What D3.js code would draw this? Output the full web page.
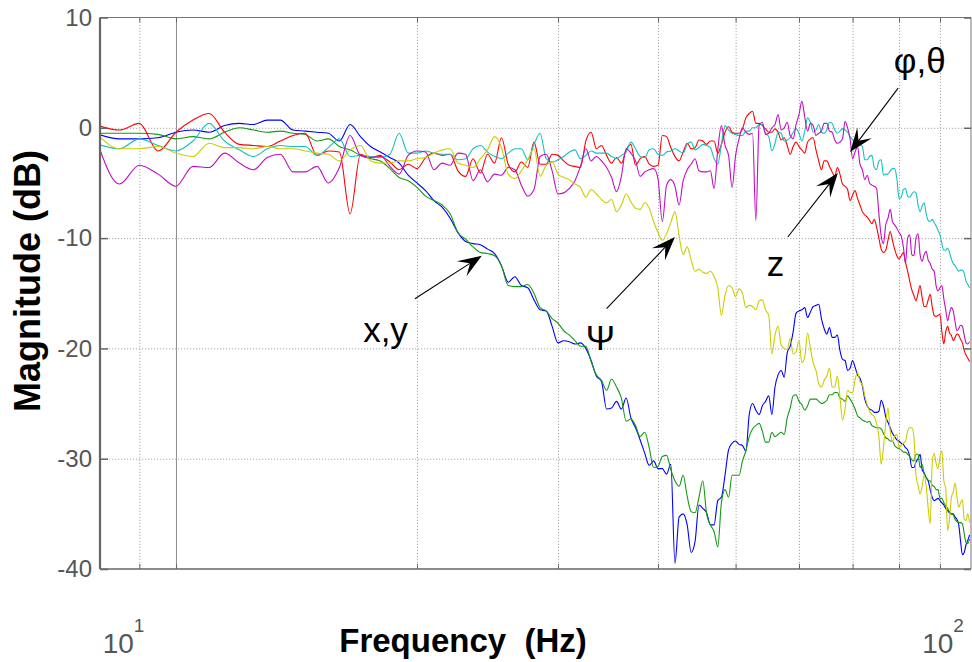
<!DOCTYPE html>
<html><head><meta charset="utf-8">
<script src="https://cdn.jsdelivr.net/npm/d3@7"></script>
<style>body{margin:0;background:#fff}svg{display:block}</style>
</head><body>
<svg id="chart" width="972" height="662"></svg>
<script>
// ---------------- data ----------------
const freqs = [8,8.5,9,9.5,10,10.5,11,11.5,12,12.5,13,13.5,14,14.5,15,15.5,16,16.5,17,17.5,
  18,18.5,19,19.5,20,20.5,21,21.5,22,22.5,23,23.5,24,24.5,25,25.5,26,26.5,27,27.5,
  28,28.5,29,29.5,30,30.5,31,31.5,32,32.5,33,33.5,34,34.5,35,35.5,36,36.5,37,37.5,
  38,38.5,39,39.5,40,40.5,41,41.5,42,42.5,43,43.5,44,44.5,45,45.5,46,46.5,47,47.5,
  48,48.5,49,49.5,50,50.5,51,51.5,52,52.5,53,53.5,54,54.5,55,55.5,56,56.5,57,57.5,
  58,58.5,59,59.5,60,60.5,61,61.5,62,62.5,63,63.5,64,64.5,65,65.5,66,66.5,67,67.5,
  68,68.5,69,69.5,70,70.5,71,71.5,72,72.5,73,73.5,74,74.5,75,75.5,76,76.5,77,77.5,
  78,78.5,79,79.5,80,80.5,81,81.5,82,82.5,83,83.5,84,84.5,85,85.5,86,86.5,87,87.5,
  88,88.5,89,89.5,90,90.5,91,91.5,92,92.5,93,93.5,94,94.5,95,95.5,96,96.5,97,97.5,
  98];

const magX = [-0.6,-1.0,-1.0,-0.9,-0.4,-0.2,-0.4,0.2,0.4,0.3,0.7,0.7,-0.2,-0.3,-0.4,-0.5,-1.2,0.3,-0.8,-1.7,
  -2.2,-2.7,-3.2,-4.3,-5.0,-5.7,-6.6,-7.2,-8.2,-9.5,-10.3,-10.5,-10.6,-11.0,-11.4,-12.5,-14.0,-13.5,-14.3,-14.5,
  -15.6,-16.5,-16.6,-18.0,-19.5,-19.3,-19.4,-19.6,-19.5,-20.0,-21.1,-22.5,-23.0,-25.5,-25.4,-24.8,-25.5,-24.5,-26.3,-27.2,
  -28.3,-29.5,-30.6,-30.2,-30.9,-30.9,-31.4,-30.5,-39.5,-35.3,-35.0,-36.0,-38.5,-37.5,-34.2,-34.5,-34.9,-36.0,-36.0,-33.8,
  -33.5,-31.5,-29.2,-28.6,-28.4,-28.7,-28.8,-29.3,-26.0,-25.0,-25.6,-26.0,-25.2,-24.8,-24.3,-26.0,-23.5,-22.4,-22.0,-22.6,
  -20.4,-19.8,-18.5,-16.8,-16.6,-16.5,-16.3,-17.2,-16.7,-16.2,-16.1,-16.0,-17.3,-18.2,-18.7,-18.1,-19.0,-19.0,-18.8,-20.2,
  -21.0,-21.1,-22.0,-21.8,-21.1,-21.7,-22.4,-22.7,-23.4,-24.6,-25.2,-25.5,-25.6,-25.8,-25.8,-25.7,-24.7,-25.2,-26.2,-26.7,
  -27.2,-27.7,-28.0,-28.3,-28.4,-28.6,-28.7,-29.0,-29.2,-29.8,-30.8,-30.8,-30.3,-30.0,-29.6,-31.0,-31.3,-31.7,-32.0,-32.8,
  -33.5,-33.8,-33.7,-33.6,-33.8,-34.0,-34.2,-34.5,-34.7,-34.9,-35.0,-35.0,-35.3,-35.5,-36.0,-37.5,-38.7,-38.5,-37.8,-37.4,
  -36.9];

const magY = [-0.5,-0.5,-0.5,-0.6,-1.0,-0.8,-1.0,-0.4,0.0,-0.2,-0.4,-0.3,-0.5,-0.6,-1.2,-1.0,-1.7,-2.0,-2.5,-2.8,
  -3.0,-3.7,-4.5,-4.8,-5.4,-6.2,-6.6,-7.0,-7.8,-9.5,-10.1,-10.8,-11.3,-11.4,-11.6,-12.5,-14.3,-14.4,-14.4,-14.2,
  -15.0,-16.3,-16.6,-17.3,-17.7,-18.4,-18.8,-19.3,-19.8,-19.8,-21.2,-22.4,-22.9,-23.8,-22.8,-23.5,-24.5,-26.6,-26.4,-27.0,
  -28.0,-27.6,-29.0,-30.8,-30.7,-29.8,-29.7,-31.0,-32.0,-32.5,-31.5,-33.4,-34.8,-34.9,-33.5,-32.0,-35.0,-36.0,-36.6,-38.0,
  -34.0,-32.8,-33.5,-31.5,-31.5,-31.5,-30.2,-29.3,-28.0,-27.3,-27.0,-26.8,-27.5,-28.5,-28.5,-27.6,-28.0,-27.8,-27.6,-27.8,
  -26.3,-25.4,-24.3,-24.2,-24.8,-25.1,-25.6,-25.2,-24.6,-24.6,-24.6,-24.8,-25.0,-24.9,-24.7,-24.2,-24.2,-24.0,-24.0,-24.5,
  -24.6,-24.8,-24.3,-24.6,-25.0,-25.5,-26.1,-26.3,-26.5,-26.6,-26.7,-26.6,-27.0,-27.1,-27.2,-27.2,-27.3,-27.7,-28.1,-28.2,
  -28.4,-28.4,-28.8,-29.0,-29.1,-29.2,-29.4,-29.4,-29.6,-29.8,-30.1,-30.2,-29.6,-29.6,-30.8,-30.5,-31.4,-31.7,-32.0,-32.0,
  -32.4,-32.5,-32.8,-32.8,-33.6,-33.6,-34.0,-34.3,-34.5,-34.8,-35.0,-35.1,-35.5,-35.7,-35.8,-35.8,-35.9,-36.8,-37.6,-37.7,
  -37.3];

const magZ = [0.2,-0.2,0.4,-2.1,-0.4,0.7,1.3,-0.4,-1.5,-1.6,-1.7,-1.2,-0.7,-0.5,-2.5,-2.1,-2.2,-7.8,-2.4,-2.7,
  -2.6,-3.1,-3.8,-3.3,-3.7,-2.7,-2.3,-2.5,-2.4,-3.9,-4.4,-2.8,-4.1,-2.4,-3.2,-0.9,-3.3,-4.0,-3.1,-3.6,
  -1.3,-3.3,-3.3,-2.4,-2.5,-3.0,-3.4,-3.5,-3.6,-1.2,-0.4,-1.9,-1.6,-2.5,-3.2,-2.7,-3.2,-2.0,-1.5,-3.4,
  -2.8,-2.6,-3.3,-3.5,-3.4,-0.7,-0.8,-1.8,-2.6,-3.0,-2.2,-1.4,-1.9,-1.8,-1.1,-1.2,-1.5,-1.2,-1.2,-2.3,
  -1.5,-0.4,0.1,-0.4,-0.5,-0.5,-0.1,0.9,1.3,1.5,0.4,0.4,0.2,-0.1,-0.4,-0.4,-0.1,-0.4,-1.1,-0.9,
  -1.6,-2.4,-1.7,-1.3,-1.7,-2.0,-2.3,-1.3,-1.0,-0.9,-2.0,-3.0,-3.8,-3.0,-3.0,-3.5,-4.0,-4.4,-3.6,-4.2,
  -5.1,-5.3,-5.6,-6.6,-6.1,-5.7,-6.4,-7.0,-7.6,-7.9,-8.1,-8.4,-8.7,-8.3,-9.0,-10.0,-11.0,-11.3,-11.1,-10.2,
  -9.4,-10.2,-11.0,-11.6,-11.9,-11.6,-11.3,-12.2,-13.0,-13.9,-14.7,-15.2,-15.7,-15.0,-14.3,-15.4,-16.2,-16.2,-15.6,-15.1,
  -16.2,-17.0,-17.1,-17.0,-16.9,-18.5,-19.6,-18.5,-18.0,-18.6,-18.8,-19.3,-19.0,-18.7,-18.8,-19.2,-19.5,-20.2,-20.6,-20.9,
  -21.2];

const magPhi = [-1.5,-1.9,-1.0,-1.6,-2.1,-1.2,0.4,-1.2,-2.0,-2.6,-1.9,-1.6,-1.7,-1.7,-2.5,-1.8,-1.0,-2.6,-2.5,-2.6,
  -2.7,-2.4,-0.5,-2.3,-2.3,-2.1,-2.3,-2.4,-2.4,-2.9,-2.8,-1.9,-1.6,-2.2,-2.6,-2.8,-2.3,-1.9,-1.9,-2.9,
  -1.5,-0.5,-2.8,-3.1,-2.9,-2.6,-2.2,-2.0,-2.8,-2.5,-2.1,-2.3,-2.3,-2.3,-2.6,-2.8,-2.5,-2.2,-1.3,-1.9,
  -2.6,-2.7,-2.0,-1.9,-2.4,-2.5,-2.2,-2.1,-1.9,-2.1,-2.3,-1.5,-1.3,-2.0,-1.8,-1.5,-1.6,-1.8,-2.8,-3.3,
  -1.5,0.2,-0.2,-0.5,-0.6,-0.7,-0.7,-0.3,-0.3,0.0,0.0,0.3,0.3,-0.5,-0.8,-2.1,-1.4,-0.4,-0.5,-1.2,
  -1.1,-0.9,-0.4,-0.1,-0.5,-1.2,-0.3,0.9,0.5,-0.4,-0.2,0.3,-0.4,-0.5,-0.2,0.5,0.4,-0.2,-0.5,-0.3,
  -0.1,-0.2,-0.4,-0.8,-1.1,-1.3,-1.4,-1.5,-1.7,-2.9,-2.9,-2.6,-2.5,-3.6,-3.8,-3.0,-2.9,-4.3,-4.2,-4.2,
  -3.9,-3.7,-3.7,-4.6,-6.4,-6.3,-5.6,-5.5,-6.2,-6.3,-6.0,-5.8,-5.9,-7.0,-7.6,-7.1,-6.8,-7.8,-8.4,-8.5,
  -8.3,-8.6,-8.9,-9.3,-9.7,-10.5,-11.1,-11.1,-10.9,-11.3,-11.9,-12.3,-12.5,-12.8,-13.0,-12.9,-12.9,-13.2,-13.9,-14.2,
  -14.5];

const magTheta = [-1.6,-5.1,-3.4,-4.2,-5.3,-3.5,-3.6,-2.3,-3.2,-3.8,-2.7,-2.4,-4.0,-4.0,-3.5,-5.0,-3.6,-0.7,-2.5,-2.7,
  -2.5,-3.5,-4.2,-2.5,-2.1,-2.2,-3.8,-3.2,-3.4,-2.3,-2.4,-4.8,-3.8,-4.9,-4.2,-4.3,-3.6,-3.8,-5.2,-6.2,
  -5.6,-2.6,-2.4,-3.9,-6.0,-5.9,-5.5,-4.8,-3.5,-1.9,-3.0,-2.6,-3.0,-3.6,-4.5,-5.8,-4.4,-1.9,-2.3,-3.0,
  -4.4,-4.0,-3.8,-3.7,-4.6,-8.5,-5.2,-4.7,-5.3,-7.0,-4.8,-3.8,-3.3,-2.8,-3.9,-4.0,-4.0,-3.9,-5.5,-2.0,
  0.2,-1.6,-2.5,-5.4,-2.5,-1.0,0.0,-0.4,-0.6,-0.5,-8.4,0.2,0.5,-0.6,-0.5,0.0,0.3,1.2,-0.2,0.0,
  0.5,-0.7,-1.0,0.3,1.2,2.4,1.0,-0.3,0.4,0.2,-0.7,-0.5,-0.3,0.4,0.4,-0.3,-0.4,-1.1,-1.4,-1.3,
  -1.0,0.6,0.0,-1.0,-2.8,-2.2,-1.7,-3.3,-3.8,-4.7,-4.3,-5.0,-5.2,-5.3,-5.5,-7.8,-9.8,-10.5,-8.8,-8.2,
  -7.4,-8.5,-8.8,-9.1,-9.5,-9.8,-10.8,-12.3,-10.0,-9.7,-11.5,-11.6,-10.0,-9.6,-11.5,-12.1,-11.5,-11.2,-12.0,-12.3,
  -12.8,-13.0,-14.3,-14.8,-14.5,-14.3,-15.5,-16.5,-17.5,-16.8,-16.3,-16.6,-17.6,-18.4,-18.2,-17.9,-18.0,-18.8,-19.5,-19.6,
  -19.4];

const magPsi = [-0.7,-1.9,-1.9,-1.7,-2.3,-2.6,-1.4,-1.8,-1.8,-1.9,-1.7,-1.9,-1.9,-2.1,-2.3,-2.4,-3.0,-2.0,-1.6,-3.0,
  -3.2,-3.2,-3.0,-3.0,-2.8,-2.7,-2.3,-2.0,-1.9,-3.2,-3.4,-3.6,-2.8,-2.0,-0.8,-1.8,-4.2,-4.6,-3.9,-2.9,
  -1.9,-4.4,-3.4,-3.1,-4.2,-4.5,-4.7,-5.1,-5.4,-6.3,-5.6,-6.0,-6.5,-6.8,-6.5,-7.6,-7.0,-6.0,-6.7,-7.3,
  -7.4,-6.8,-7.3,-8.5,-9.5,-10.2,-9.6,-8.6,-7.6,-9.8,-11.5,-10.8,-12.0,-13.0,-12.8,-13.1,-13.2,-13.0,-13.5,-14.5,
  -17.0,-15.2,-14.3,-14.5,-15.3,-14.6,-15.0,-16.3,-16.1,-16.2,-16.5,-15.7,-15.6,-16.5,-17.0,-20.5,-18.8,-18.0,-19.7,-20.0,
  -20.1,-19.1,-20.5,-20.3,-19.3,-21.3,-20.8,-18.6,-20.0,-21.3,-22.0,-23.2,-23.5,-22.9,-22.5,-21.8,-23.5,-23.5,-22.5,-24.4,
  -26.5,-25.5,-23.8,-24.0,-24.0,-22.8,-22.2,-23.0,-23.3,-24.3,-25.1,-25.7,-26.0,-26.2,-26.8,-28.0,-30.5,-29.0,-26.8,-25.4,
  -27.5,-28.4,-28.0,-27.8,-29.0,-28.8,-28.6,-28.4,-27.5,-27.2,-27.2,-28.0,-31.5,-32.4,-33.2,-32.5,-31.5,-32.5,-34.5,-35.9,
  -30.5,-29.5,-30.4,-30.9,-29.8,-29.3,-32.0,-32.7,-36.5,-35.5,-33.5,-33.0,-32.2,-33.5,-34.4,-34.0,-33.7,-35.5,-35.6,-35.0,
  -35.8];

const seriesNames = ["x","y","z","phi","theta","psi"];
const seriesValues = [magX, magY, magZ, magPhi, magTheta, magPsi];
const seriesColors = ["#0000ff","#139a13","#ff0000","#14c0c0","#c010c0","#cccc00"];

const yTicks = [10, 0, -10, -20, -30, -40];
const xGridFreqs = [9, 10, 20, 30, 40, 50, 60, 70, 80, 90];
const xTickLabels = [{base:"10", exp:"1", at:8.1}, {base:"10", exp:"2", at:85.5}];

const annotations = [
  {text:"x,y", f:17.13, db:-19.4},
  {text:"\u03A8", f:32.5, db:-20.1},
  {text:"z", f:54.7, db:-13.4},
  {text:"\u03C6,\u03B8", f:78.8, db:5.0}
];
const arrows = [
  {from:[19.88,-15.5], to:[24.1,-11.6]},
  {from:[34.5,-16.4], to:[42.0,-9.9]},
  {from:[58.1,-9.9], to:[67.1,-4.1]},
  {from:[79.8,3.6], to:[69.5,-2.2]}
];

// ---------------- drawing ----------------
const svg = d3.select("#chart");
const P = {left:100, right:971, top:17.5, bottom:569};
const x = d3.scaleLog().domain([8.037, 98.4]).range([P.left, P.right]);
const y = d3.scaleLinear().domain([-40, 10]).range([P.bottom, P.top]);
const FONT = "'Liberation Sans', Arial, Helvetica, sans-serif";

svg.append("defs").append("clipPath").attr("id","clip")
  .append("rect").attr("x",P.left).attr("y",P.top).attr("width",P.right-P.left).attr("height",P.bottom-P.top);

// grid
const grid = svg.append("g");
grid.append("g").attr("transform",`translate(0,${P.bottom})`)
  .call(d3.axisBottom(x).tickValues(xGridFreqs).tickSize(-(P.bottom-P.top)).tickFormat(""))
  .call(g=>{g.select(".domain").remove();
    g.selectAll(".tick line").attr("stroke", d=> d===10 ? "#8c8c8c" : "#a8a8a8")
     .attr("stroke-dasharray", d=> d===10 ? null : "1.2,1.8").attr("stroke-width",1);});
grid.append("g").attr("transform",`translate(${P.left},0)`)
  .call(d3.axisLeft(y).tickValues(yTicks.filter(v=>v!==10 && v!==-40)).tickSize(-(P.right-P.left)).tickFormat(""))
  .call(g=>{g.select(".domain").remove();
    g.selectAll(".tick line").attr("stroke","#a8a8a8").attr("stroke-dasharray","1.2,1.8");});

// lines
const line = d3.line().curve(d3.curveMonotoneX).x(d=>x(d[0])).y(d=>y(d[1]));
const lines = svg.append("g").attr("clip-path","url(#clip)");
seriesValues.forEach((vals,i)=>{
  lines.append("path").datum(freqs.map((f,j)=>[f, vals[j]]))
    .attr("fill","none").attr("stroke",seriesColors[i]).attr("stroke-width",1.1)
    .attr("stroke-linejoin","round").attr("d",line);
});

// frame and ticks
const axisColor = "#666";
const frame = svg.append("g");
frame.append("line").attr("x1",P.left).attr("x2",P.right).attr("y1",P.top).attr("y2",P.top).attr("stroke","#777").attr("stroke-width",1.2);
frame.append("line").attr("x1",P.left).attr("x2",P.right).attr("y1",P.bottom).attr("y2",P.bottom).attr("stroke",axisColor).attr("stroke-width",1.6);
frame.append("line").attr("x1",P.right).attr("x2",P.right).attr("y1",P.top).attr("y2",P.bottom).attr("stroke","#777").attr("stroke-width",1);

const bt = svg.append("g").attr("transform",`translate(0,${P.bottom})`)
  .call(d3.axisBottom(x).tickValues(xGridFreqs).tickSize(-5).tickFormat(""));
bt.select(".domain").remove(); bt.selectAll("line").attr("stroke",axisColor);
const tt = svg.append("g").attr("transform",`translate(0,${P.top})`)
  .call(d3.axisTop(x).tickValues(xGridFreqs).tickSize(-5).tickFormat(""));
tt.select(".domain").remove(); tt.selectAll("line").attr("stroke",axisColor);
const rt = svg.append("g").attr("transform",`translate(${P.right},0)`)
  .call(d3.axisRight(y).tickValues(yTicks).tickSize(-7).tickFormat(""));
rt.select(".domain").remove(); rt.selectAll("line").attr("stroke",axisColor).attr("stroke-width",1.5);

const la = svg.append("g").attr("transform",`translate(${P.left},0)`)
  .call(d3.axisLeft(y).tickValues(yTicks).tickSize(-8).tickPadding(8).tickFormat(d3.format("d")));
la.select(".domain").attr("stroke",axisColor).attr("stroke-width",2.2).attr("d",`M0,${P.top}V${P.bottom}`);
la.selectAll(".tick line").attr("stroke",axisColor).attr("stroke-width",1.5);
la.selectAll(".tick text").attr("font-family",FONT).attr("font-size",24).attr("fill","#555")
  .text(d=> d<0 ? "-"+Math.abs(d) : String(d));

xTickLabels.forEach(t=>{
  const tx = svg.append("text").attr("x",x(t.at)).attr("y",653)
    .attr("font-family",FONT).attr("font-size",28).attr("fill","#555");
  tx.append("tspan").text(t.base);
  tx.append("tspan").attr("dy",-21).attr("font-size",19).text(t.exp);
});

// axis titles
svg.append("text").attr("x",463).attr("y",652).attr("text-anchor","middle")
  .attr("font-family",FONT).attr("font-weight","bold").attr("font-size",33).attr("fill","#000")
  .attr("xml:space","preserve").text("Frequency  (Hz)");
svg.append("text").attr("transform",`translate(40,281) rotate(-90)`)
  .attr("text-anchor","middle").attr("font-family",FONT).attr("font-weight","bold")
  .attr("font-size",36).attr("fill","#000").text("Magnitude (dB)");

// annotations
const ann = svg.append("g");
annotations.forEach(a=>{
  ann.append("text").attr("x",x(a.f)).attr("y",y(a.db)).attr("font-family",FONT)
    .attr("font-size",35).attr("fill","#000").text(a.text);
});
arrows.forEach(a=>{
  const x0=x(a.from[0]), y0=y(a.from[1]), x1=x(a.to[0]), y1=y(a.to[1]);
  const dx=x1-x0, dy=y1-y0, len=Math.hypot(dx,dy), ux=dx/len, uy=dy/len, px=-uy, py=ux;
  const L=24, Wd=9, N=14;
  ann.append("line").attr("x1",x0).attr("y1",y0).attr("x2",x1-ux*10).attr("y2",y1-uy*10)
    .attr("stroke","#000").attr("stroke-width",1.1);
  const pts=[[x1,y1],[x1-L*ux+Wd*px,y1-L*uy+Wd*py],[x1-N*ux,y1-N*uy],[x1-L*ux-Wd*px,y1-L*uy-Wd*py]];
  ann.append("path").attr("d","M"+pts.map(p=>p.join(",")).join("L")+"Z").attr("fill","#000");
});
</script>
</body></html>
